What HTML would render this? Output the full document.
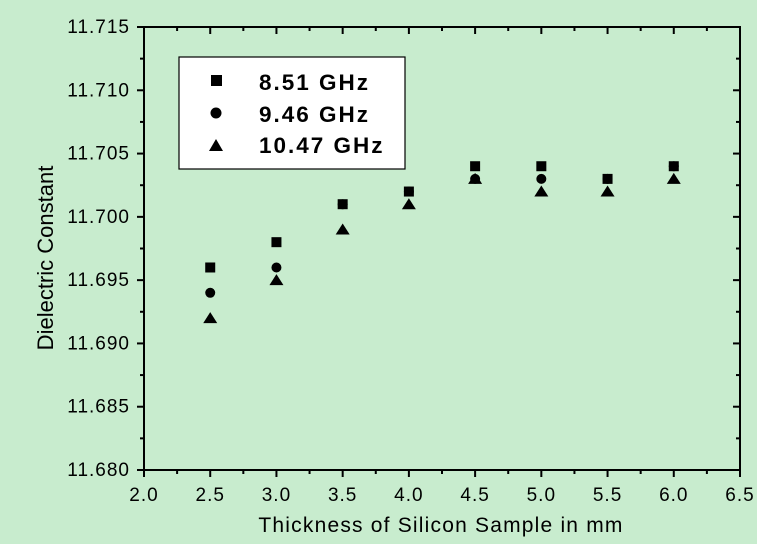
<!DOCTYPE html>
<html><head><meta charset="utf-8"><style>
body{margin:0;background:#c8ecce;}
svg{display:block;font-family:"Liberation Sans",Arial,sans-serif;}
</style></head><body>
<svg id="chart" width="757" height="544" xmlns="http://www.w3.org/2000/svg">
<rect width="757" height="544" fill="#c8ecce"/>
<g id="axes"></g>
<g id="marks"></g>
<g>
<rect x="179" y="57" width="226" height="112" fill="#fff" stroke="#000" stroke-width="1.2"/>
<rect x="211" y="75" width="11" height="11" fill="#000"/>
<circle cx="216" cy="113" r="5.5" fill="#000"/>
<polygon points="216,139 223,151 209,151" fill="#000"/>
<text x="259" y="90" font-size="22.5" font-weight="bold" letter-spacing="2">8.51 GHz</text>
<text x="259" y="122" font-size="22.5" font-weight="bold" letter-spacing="2">9.46 GHz</text>
<text x="259" y="153" font-size="22.5" font-weight="bold" letter-spacing="2">10.47 GHz</text>
</g>
<text x="441" y="532" font-size="21" text-anchor="middle" letter-spacing="1.2">Thickness of Silicon Sample in mm</text>
<text transform="translate(53,258) rotate(-90)" font-size="22" text-anchor="middle">Dielectric Constant</text>
</svg>
<script>
const thickness=[2.5,3.0,3.5,4.0,4.5,5.0,5.5,6.0];
const s851=[11.696,11.698,11.701,11.702,11.704,11.704,11.703,11.704];
const s946=[11.694,11.696,11.701,11.702,11.703,11.703,11.703,11.704];
const s1047=[11.692,11.695,11.699,11.701,11.703,11.702,11.702,11.703];
const xTicks=["2.0","2.5","3.0","3.5","4.0","4.5","5.0","5.5","6.0","6.5"];
const yTicks=["11.680","11.685","11.690","11.695","11.700","11.705","11.710","11.715"];
const L=144,R=740,T=27,B=470,xmin=2,xmax=6.5,ymin=11.68,ymax=11.715;
const X=v=>L+(v-xmin)/(xmax-xmin)*(R-L);
const Y=v=>B-(v-ymin)/(ymax-ymin)*(B-T);
const NS="http://www.w3.org/2000/svg";
function mk(tag,attrs,parent){const e=document.createElementNS(NS,tag);for(const k in attrs)e.setAttribute(k,attrs[k]);parent.appendChild(e);return e;}
const ax=document.getElementById('axes');
const frame=mk('rect',{x:L,y:T,width:R-L,height:B-T,fill:'none',stroke:'#000','stroke-width':2},ax);


xTicks.forEach((t,i)=>{const v=parseFloat(t);const x=X(v);
 mk('line',{x1:x,x2:x,y1:B,y2:B+7,stroke:'#000','stroke-width':2},ax);
 mk('line',{x1:x,x2:x,y1:T,y2:T+7,stroke:'#000','stroke-width':2},ax);
 if(i<xTicks.length-1){const xm=X(v+0.25);
  mk('line',{x1:xm,x2:xm,y1:B,y2:B+4,stroke:'#000','stroke-width':2},ax);
  mk('line',{x1:xm,x2:xm,y1:T,y2:T+4,stroke:'#000','stroke-width':2},ax);}
 const tx=mk('text',{x:x,y:B+31,'font-size':19,'text-anchor':'middle','letter-spacing':1},ax);tx.textContent=t;
 
 
});
yTicks.forEach((t,i)=>{const v=parseFloat(t);const y=Y(v);
 mk('line',{x1:L-7,x2:L,y1:y,y2:y,stroke:'#000','stroke-width':2},ax);
 mk('line',{x1:R-7,x2:R,y1:y,y2:y,stroke:'#000','stroke-width':2},ax);
 if(i<yTicks.length-1){const ym=Y(v+0.0025);
  mk('line',{x1:L-4,x2:L,y1:ym,y2:ym,stroke:'#000','stroke-width':2},ax);
  mk('line',{x1:R-4,x2:R,y1:ym,y2:ym,stroke:'#000','stroke-width':2},ax);}
 const tx=mk('text',{x:L-14,y:y+6,'font-size':19,'text-anchor':'end','letter-spacing':1},ax);tx.textContent=t;
 
 
});
const mg=document.getElementById('marks');
thickness.forEach((t,i)=>{const x=X(t);
 const a=mk('rect',{x:x-5,y:Y(s851[i])-5,width:10,height:10,fill:'#000'},mg);
 
 
 const b=mk('circle',{cx:x,cy:Y(s946[i]),r:5,fill:'#000'},mg);
 
 
 const y=Y(s1047[i]);
 const c=mk('polygon',{points:`${x},${y-6} ${x+7},${y+5} ${x-7},${y+5}`,fill:'#000'},mg);
 
 
});
</script>
</body></html>
